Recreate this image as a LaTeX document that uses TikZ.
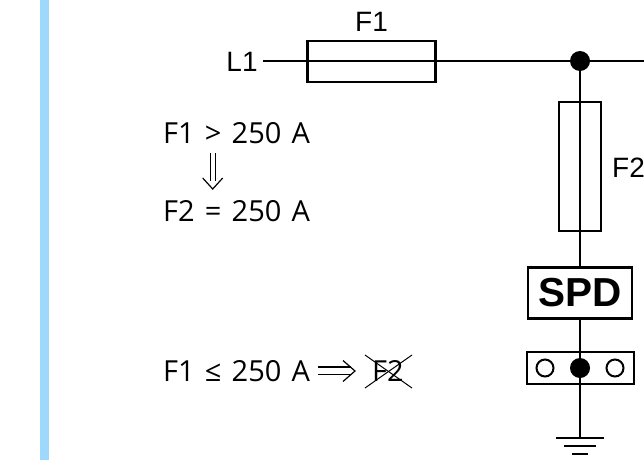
\documentclass[tikz,border=0pt]{standalone}
\usepackage{fontspec}
\setmainfont[WordSpace=1.35]{Open Sans}
\newfontfamily\labelfont{Liberation Sans}
\usetikzlibrary{positioning}
\tikzset{fuse/.style={draw, line width=2.4pt, inner sep=0pt},
  wire/.style={line width=2.4pt},
  dot/.style={circle, fill=black, inner sep=0pt, minimum size=20pt},
  hole/.style={circle, draw, line width=2pt, fill=white, inner sep=0pt, minimum size=17pt},
  ruletext/.style={anchor=base west, inner sep=0pt, font=\fontsize{29}{29}\selectfont},
  tagtext/.style={inner sep=0pt, font=\labelfont\fontsize{28}{28}\selectfont},
  thin stroke/.style={line width=1.2pt}}
\definecolor{barblue}{HTML}{9FD8FD}

\begin{document}
\begin{tikzpicture}[x=1pt, y=-1pt]
    \useasboundingbox (0,0) rectangle (644,460);
    \fill[barblue] (40,0) rectangle (48.5,460);

    \coordinate (lineleft) at (263,61);
    \coordinate (lineright) at (644,61);
    \node[dot] (top) at (580,61) {};
    \coordinate (mid) at (580,368);
    \coordinate (gnd) at (580,438);

    % boxes first, wires run over the fuses
    \node[fuse, minimum width=128pt, minimum height=41pt] (fone) at (371.5,61.5) {};
    \node[fuse, minimum width=42pt, minimum height=129pt] (ftwo) at (580,166.5) {};
    \draw[wire] (lineleft) -- (lineright);
    \draw[wire] (top) -- (mid) -- (gnd);

    \node[fuse, fill=white, minimum width=104pt, minimum height=51pt, font=\labelfont\bfseries\fontsize{40.5}{40.5}\selectfont] (spd) at (580,293) {SPD};
    \node[fuse, fill=white, minimum width=107pt, minimum height=32pt] (term) at (580.5,368) {};
    \node[hole] (holea) at (545,368) {};
    \node[hole] (holeb) at (615,368) {};
    \node[dot] (middot) at (mid) {};
    \draw[wire] (spd.south) -- (middot);
    \draw[wire] (middot) -- (gnd);

    % earth symbol
    \draw[wire] ([xshift=-24pt]gnd) -- ([xshift=24pt]gnd);
    \draw[wire] ([shift={(-16pt,-8pt)}]gnd) -- ([shift={(16pt,-8pt)}]gnd);
    \draw[wire] ([shift={(-8pt,-16pt)}]gnd) -- ([shift={(8pt,-16pt)}]gnd);

    \node[tagtext] (lone) at (242,62) {L1};
    \node[tagtext] (fonelabel) [above = 8pt of fone] {F1};
    \node[tagtext, anchor=west] (ftwolabel) at (612,168) {F2};

    \node[ruletext] (ruleone) at (163,143) {F1 > 250 A};
    \node[ruletext] (ruletwo) at (163,221) {F2 = 250 A};
    \node[ruletext] (rulethree) at (163,381) {F1 ≤ 250 A};
    \node[ruletext] (crossed) at (372,381) {F2};

    % hand drawn double arrows
    \coordinate (downtip) at (212.7,189);
    \draw[thin stroke] (210.2,153) -- (210.2,181);
    \draw[thin stroke] (215.2,153) -- (215.2,181);
    \draw[thin stroke] (202.7,178) -- (downtip) -- (222.7,178);
    \coordinate (righttip) at (355,371);
    \draw[thin stroke] (318,367) -- (351,367);
    \draw[thin stroke] (318,374.5) -- (351,374.5);
    \draw[thin stroke] (343,360.5) -- (righttip) -- (343,381.5);

    \coordinate (crossa) at (365,355);
    \coordinate (crossb) at (412,388);
    \draw[line width=1pt] (crossa) -- (crossb);
    \draw[line width=1pt] (crossa |- crossb) -- (crossb |- crossa);
  \end{tikzpicture}
\end{document}
